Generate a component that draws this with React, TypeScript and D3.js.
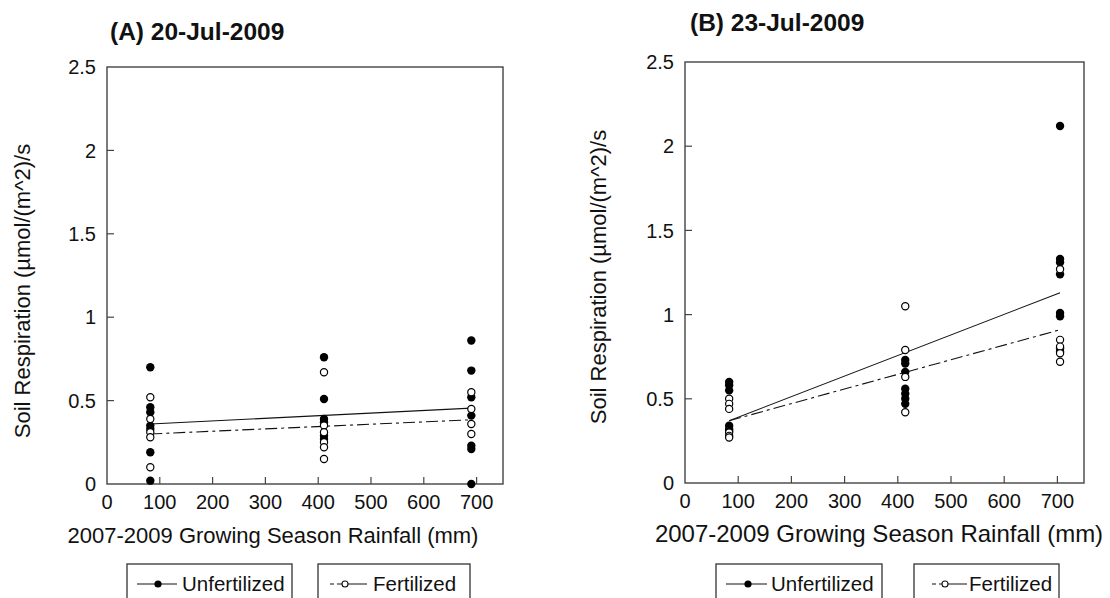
import React from "react";
import * as d3 from "d3";

// Rainfall levels (mm) of the three sites, as plotted in each panel
const rainfallA = [82, 411, 690];
const rainfallB = [83, 414, 705];

// Soil respiration (µmol/(m^2)/s), one list per rainfall level
const unfertilizedA = [
  [0.7, 0.46, 0.43, 0.35, 0.33, 0.19, 0.02],
  [0.76, 0.51, 0.39, 0.37, 0.29, 0.27],
  [0.86, 0.68, 0.52, 0.41, 0.23, 0.21, 0.0],
];
const fertilizedA = [
  [0.52, 0.39, 0.31, 0.28, 0.1],
  [0.67, 0.35, 0.31, 0.25, 0.22, 0.15],
  [0.55, 0.45, 0.36, 0.3],
];
const unfertilizedB = [
  [0.6, 0.58, 0.55, 0.34, 0.32, 0.31],
  [0.73, 0.71, 0.66, 0.56, 0.53, 0.5, 0.47],
  [2.12, 1.33, 1.31, 1.24, 1.01, 0.99, 0.8, 0.78],
];
const fertilizedB = [
  [0.5, 0.47, 0.44, 0.3, 0.28, 0.27],
  [1.05, 0.79, 0.63, 0.42],
  [1.27, 0.85, 0.81, 0.77, 0.72],
];

// Fitted regression lines: value at the lowest and highest rainfall level
const trendUnfertilizedA = [0.36, 0.455];
const trendFertilizedA = [0.3, 0.385];
const trendUnfertilizedB = [0.37, 1.13];
const trendFertilizedB = [0.37, 0.91];

const xTicks = [0, 100, 200, 300, 400, 500, 600, 700];
const yTicks = [0, 0.5, 1, 1.5, 2, 2.5];
const xLabel = "2007-2009 Growing Season Rainfall (mm)";
const yLabel = "Soil Respiration (µmol/(m^2)/s";
const seriesNames = ["Unfertilized", "Fertilized"];

const FONT = "'Liberation Sans', Arial, Helvetica, sans-serif";
const AXIS = "#444";
const DASH = "12,4,3,4";

type PanelProps = {
  title: string;
  titleX: number;
  titleY: number;
  left: number;
  right: number;
  top: number;
  bottom: number;
  rainfall: number[];
  unfert: number[][];
  fert: number[][];
  trendU: number[];
  trendF: number[];
  xLabelX: number;
  xLabelSize: number;
  yLabelX: number;
  yLabelY: number;
};

function Panel(p: PanelProps) {
  const x = d3.scaleLinear().domain([0, 750]).range([p.left, p.right]);
  const y = d3.scaleLinear().domain([0, 2.5]).range([p.bottom, p.top]);
  const xs = [p.rainfall[0], p.rainfall[p.rainfall.length - 1]];
  const line = d3
    .line<[number, number]>()
    .x((d) => x(d[0]))
    .y((d) => y(d[1]));
  const uPts: [number, number][] = xs.map((v, i) => [v, p.trendU[i]]);
  const fPts: [number, number][] = xs.map((v, i) => [v, p.trendF[i]]);
  return (
    <g>
      <text x={p.titleX} y={p.titleY} fontSize={24.5} fontWeight="bold" fill="#111">
        {p.title}
      </text>
      {/* plot frame */}
      <rect
        x={p.left}
        y={p.top}
        width={p.right - p.left}
        height={p.bottom - p.top}
        fill="none"
        stroke={AXIS}
        strokeWidth={1.4}
      />
      {/* x ticks point inward */}
      {xTicks.map((t) => (
        <g key={"xt" + t}>
          {t > 0 && (
            <line x1={x(t)} x2={x(t)} y1={p.bottom} y2={p.bottom - 7} stroke={AXIS} strokeWidth={1.2} />
          )}
          <text x={x(t)} y={p.bottom + 25} fontSize={20} textAnchor="middle" fill="#111">
            {t}
          </text>
        </g>
      ))}
      {yTicks.map((t) => (
        <g key={"yt" + t}>
          {t > 0 && t < 2.5 && (
            <line x1={p.left} x2={p.left + 7} y1={y(t)} y2={y(t)} stroke={AXIS} strokeWidth={1.2} />
          )}
          <text x={p.left - 11} y={y(t)} dy="0.36em" fontSize={20} textAnchor="end" fill="#111">
            {t}
          </text>
        </g>
      ))}
      <text x={p.xLabelX} y={p.bottom + 59} fontSize={p.xLabelSize} textAnchor="middle" fill="#111">
        {xLabel}
      </text>
      <text
        transform={`translate(${p.yLabelX},${p.yLabelY}) rotate(-90)`}
        fontSize={22}
        textAnchor="middle"
        dy="0.36em"
        fill="#111"
      >
        {yLabel}
      </text>
      {/* regression lines */}
      <path d={line(uPts) || ""} fill="none" stroke="#111" strokeWidth={1.1} />
      <path d={line(fPts) || ""} fill="none" stroke="#111" strokeWidth={1.1} strokeDasharray={DASH} />
      {/* observations */}
      {p.unfert.map((vals, i) =>
        vals.map((v, j) => <circle key={`u${i}-${j}`} cx={x(p.rainfall[i])} cy={y(v)} r={4.2} fill="#000" />)
      )}
      {p.fert.map((vals, i) =>
        vals.map((v, j) => (
          <circle
            key={`f${i}-${j}`}
            cx={x(p.rainfall[i])}
            cy={y(v)}
            r={3.6}
            fill="#fff"
            stroke="#000"
            strokeWidth={1.2}
          />
        ))
      )}
    </g>
  );
}

type LegendProps = {
  x0: number;
  x1: number;
  lineX0: number;
  lineX1: number;
  markerX: number;
  textX: number;
  filled: boolean;
  label: string;
};

function LegendBox(l: LegendProps) {
  const top = 564;
  const ly = 584;
  return (
    <g>
      <rect x={l.x0} y={top} width={l.x1 - l.x0} height={60} fill="#fff" stroke="#333" strokeWidth={1.3} />
      <line
        x1={l.lineX0}
        x2={l.lineX1}
        y1={ly}
        y2={ly}
        stroke="#111"
        strokeWidth={1.2}
        strokeDasharray={l.filled ? undefined : "4,3,60"}
      />
      {l.filled ? (
        <circle cx={l.markerX} cy={ly} r={3.6} fill="#000" />
      ) : (
        <circle cx={l.markerX} cy={ly} r={3} fill="#fff" stroke="#111" strokeWidth={1.1} />
      )}
      <text x={l.textX} y={ly + 7} fontSize={20.5} fill="#111">
        {l.label}
      </text>
    </g>
  );
}

export default function App() {
  return (
    <svg
      width={1110}
      height={598}
      style={{ position: "absolute", left: 0, top: 0, background: "#fff", fontFamily: FONT }}
    >
      <rect width={1110} height={598} fill="#fff" />
      <Panel
        title="(A) 20-Jul-2009"
        titleX={110}
        titleY={40}
        left={107}
        right={503}
        top={67}
        bottom={484}
        rainfall={rainfallA}
        unfert={unfertilizedA}
        fert={fertilizedA}
        trendU={trendUnfertilizedA}
        trendF={trendFertilizedA}
        xLabelX={273}
        xLabelSize={22}
        yLabelX={22}
        yLabelY={291}
      />
      <Panel
        title="(B) 23-Jul-2009"
        titleX={690}
        titleY={31}
        left={685}
        right={1084}
        top={62}
        bottom={483}
        rainfall={rainfallB}
        unfert={unfertilizedB}
        fert={fertilizedB}
        trendU={trendUnfertilizedB}
        trendF={trendFertilizedB}
        xLabelX={879}
        xLabelSize={24}
        yLabelX={598}
        yLabelY={277}
      />
      <LegendBox x0={127} x1={292} lineX0={137} lineX1={177} markerX={158} textX={182} filled label={seriesNames[0]} />
      <LegendBox x0={318} x1={470} lineX0={330} lineX1={367} markerX={345} textX={373} filled={false} label={seriesNames[1]} />
      <LegendBox x0={716} x1={882} lineX0={726} lineX1={767} markerX={748} textX={771} filled label={seriesNames[0]} />
      <LegendBox x0={914} x1={1059} lineX0={932} lineX1={967} markerX={945} textX={969} filled={false} label={seriesNames[1]} />
    </svg>
  );
}
